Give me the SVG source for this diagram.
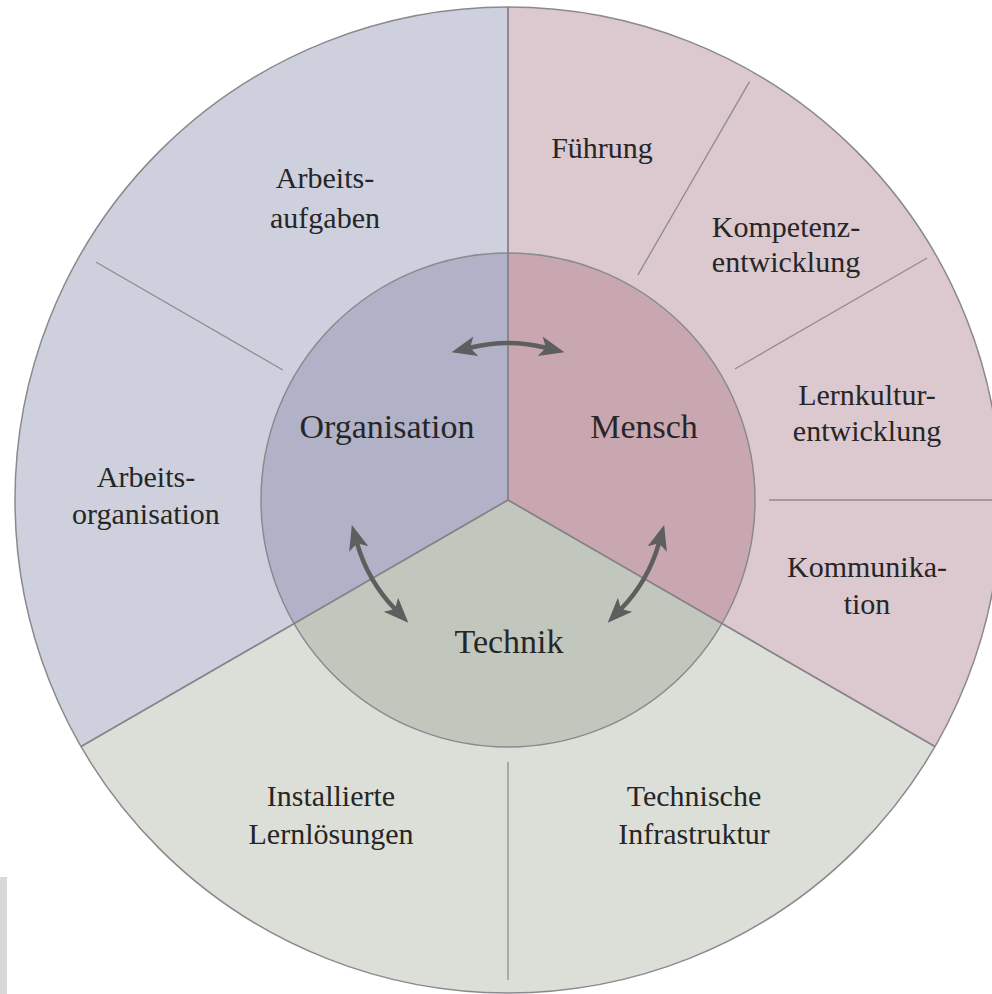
<svg xmlns="http://www.w3.org/2000/svg" width="992" height="994" viewBox="0 0 992 994">
  <style>
    .lbl { font-family: "Liberation Serif", "Times New Roman", serif; fill: #262626; text-anchor: middle; }
    .outer { font-size: 30px; }
    .inner { font-size: 34px; }
    .edge { fill: none; stroke: #8a8a8e; stroke-width: 1.5; }
    .div { stroke: #8e8c92; stroke-width: 1.3; fill: none; }
    .main { stroke: #858089; stroke-width: 1.8; fill: none; }
    .arrow { fill: none; stroke: #5e5e5e; stroke-width: 4.5; marker-start: url(#head); marker-end: url(#head); }
  </style>
  <defs>
    <marker id="head" markerUnits="userSpaceOnUse" markerWidth="26" markerHeight="24" refX="6" refY="12" orient="auto-start-reverse" viewBox="0 0 26 24">
      <path d="M25,12 L0,2 L6,12 L0,22 Z" fill="#5e5e5e"/>
    </marker>
  </defs>
  <rect x="0" y="0" width="992" height="994" fill="#ffffff"/>
  <rect x="0" y="877" width="7" height="117" fill="#d9d9d9"/>

  <g id="ring">
    <path id="outer-org" d="M508,500 L81.1,746.5 A493,493 0 0,1 508,7 Z" fill="#cfd0dd"/>
    <path id="outer-mensch" d="M508,500 L508,7 A493,493 0 0,1 934.9,746.5 Z" fill="#dcc8cf"/>
    <path id="outer-technik" d="M508,500 L934.9,746.5 A493,493 0 0,1 81.1,746.5 Z" fill="#dcdfd8"/>
    <circle cx="508" cy="500" r="493" class="edge"/>
    <line class="div" x1="282.8" y1="370" x2="95.8" y2="262"/>
    <line class="div" x1="638" y1="274.8" x2="749.5" y2="81.7"/>
    <line class="div" x1="734.9" y1="369" x2="927.1" y2="258"/>
    <line class="div" x1="769" y1="500" x2="1001" y2="500"/>
    <line class="div" x1="508" y1="762" x2="508" y2="980"/>
  </g>

  <g id="core">
    <path id="inner-org" d="M508,500 L294.1,623.5 A247,247 0 0,1 508,253 Z" fill="#b1b2c7"/>
    <path id="inner-mensch" d="M508,500 L508,253 A247,247 0 0,1 721.9,623.5 Z" fill="#c9a7b1"/>
    <path id="inner-technik" d="M508,500 L721.9,623.5 A247,247 0 0,1 294.1,623.5 Z" fill="#c2c7be"/>
    <circle cx="508" cy="500" r="247" class="edge"/>
    <line class="main" x1="508" y1="500" x2="508" y2="7"/>
    <line class="main" x1="508" y1="500" x2="934.9" y2="746.5"/>
    <line class="main" x1="508" y1="500" x2="81.1" y2="746.5"/>
  </g>

  <g id="node-organisation"><text class="lbl inner" x="387" y="438">Organisation</text></g>
  <g id="node-mensch"><text class="lbl inner" x="644" y="438">Mensch</text></g>
  <g id="node-technik"><text class="lbl inner" x="509" y="653">Technik</text></g>

  <g id="node-arbeitsaufgaben"><text class="lbl outer" x="325" y="188">Arbeits-</text><text class="lbl outer" x="325" y="228">aufgaben</text></g>
  <g id="node-arbeitsorganisation"><text class="lbl outer" x="146" y="487">Arbeits-</text><text class="lbl outer" x="146" y="524">organisation</text></g>
  <g id="node-fuehrung"><text class="lbl outer" x="602" y="158">Führung</text></g>
  <g id="node-kompetenz"><text class="lbl outer" x="786" y="237">Kompetenz-</text><text class="lbl outer" x="786" y="272">entwicklung</text></g>
  <g id="node-lernkultur"><text class="lbl outer" x="867" y="405">Lernkultur-</text><text class="lbl outer" x="867" y="441">entwicklung</text></g>
  <g id="node-kommunikation"><text class="lbl outer" x="867" y="577">Kommunika-</text><text class="lbl outer" x="867" y="614">tion</text></g>
  <g id="node-lernloesungen"><text class="lbl outer" x="331" y="806">Installierte</text><text class="lbl outer" x="331" y="844">Lernlösungen</text></g>
  <g id="node-infrastruktur"><text class="lbl outer" x="694" y="806">Technische</text><text class="lbl outer" x="694" y="844">Infrastruktur</text></g>

  <g id="connectors">
    <path class="arrow" d="M470,347.7 A157,157 0 0,1 546,347.7"/>
    <path class="arrow" d="M395.1,609.1 A157,157 0 0,1 357.1,543.3"/>
    <path class="arrow" d="M658.9,543.3 A157,157 0 0,1 620.9,609.1"/>
  </g>
</svg>
